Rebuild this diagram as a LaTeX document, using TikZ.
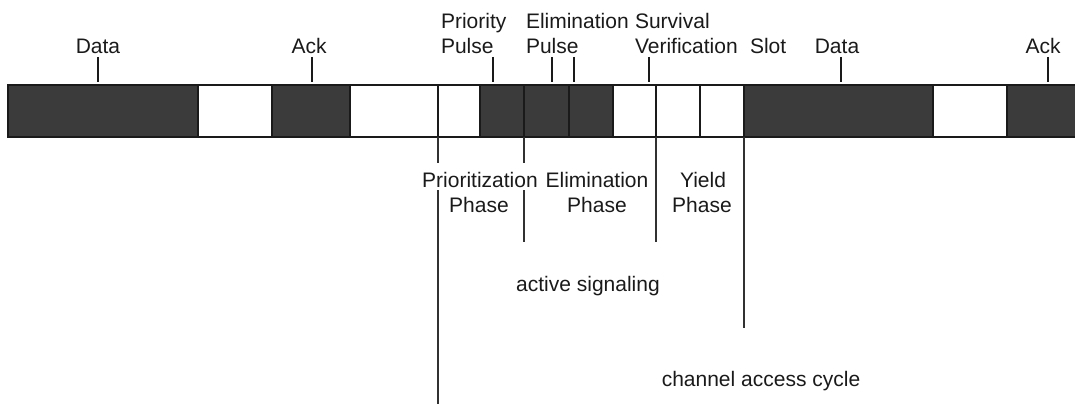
\documentclass[tikz,border=0pt]{standalone}
\usepackage{fontspec}
\setmainfont{Liberation Sans}
\definecolor{dk}{HTML}{3B3B3B}
\definecolor{ink}{HTML}{1A1A1A}
\begin{document}
\begin{tikzpicture}[x=1pt,y=-1pt,
  cell/.style={draw=ink, line width=2pt, minimum height=52pt, inner sep=0pt, outer sep=0pt},
  darkcell/.style={cell, fill=dk},
  lightcell/.style={cell, fill=white},
  lbl/.style={inner sep=0pt, outer sep=0pt, text=ink, font=\fontsize{21}{24}\selectfont},
  tick/.style={draw=ink, line width=2pt, shorten >=3pt},
  guide/.style={draw=ink!90, line width=1.9pt}]
\useasboundingbox (0,0) rectangle (1075,404);
% cells
\node[darkcell,  minimum width=190pt] (c1)  at (103,111) {};
\node[lightcell, minimum width=74pt]  (c2)  at (235,111) {};
\node[darkcell,  minimum width=78pt]  (c3)  at (311,111) {};
\node[lightcell, minimum width=88pt]  (c4)  at (394,111) {};
\node[lightcell, minimum width=42pt]  (c5)  at (459,111) {};
\node[darkcell,  minimum width=44pt]  (c6)  at (502,111) {};
\node[darkcell,  minimum width=45pt]  (c7)  at (546.5,111) {};
\node[darkcell,  minimum width=44pt]  (c8)  at (591,111) {};
\node[lightcell, minimum width=43pt]  (c9)  at (634.5,111) {};
\node[lightcell, minimum width=44pt]  (c10) at (678,111) {};
\node[lightcell, minimum width=44pt]  (c11) at (722,111) {};
\node[darkcell,  minimum width=189pt] (c12) at (838.5,111) {};
\node[lightcell, minimum width=74pt]  (c13) at (970,111) {};
\node[darkcell,  minimum width=70pt]  (c14) at (1042,111) {};
% top labels
\node[lbl, anchor=base] (dataA) at (98,53) {Data};
\node[lbl, anchor=base] (ackA) at (309,53) {Ack};
\node[lbl, anchor=base west] (prio1) at (441,29) {Priority};
\node[lbl, anchor=base west] (prio2) at (441,53) {Pulse};
\node[lbl, anchor=base west] (elim1) at (526,29) {Elimination};
\node[lbl, anchor=base west] (elim2) at (526,53) {Pulse};
\node[lbl, anchor=base west] (surv1) at (635,29) {Survival};
\node[lbl, anchor=base west] (surv2) at (635,53) {Verification};
\node[lbl, anchor=base west] (slot) at (750,53) {Slot};
\node[lbl, anchor=base] (dataB) at (837,53) {Data};
\node[lbl, anchor=base] (ackB) at (1043,53) {Ack};
% bottom labels
\node[lbl, anchor=base] (pph1) at (480,187) {Prioritization};
\node[lbl, anchor=base] (pph2) at (479,212) {Phase};
\node[lbl, anchor=base] (eph1) at (597,187) {Elimination};
\node[lbl, anchor=base] (eph2) at (597,212) {Phase};
\node[lbl, anchor=base] (yph1) at (703,187) {Yield};
\node[lbl, anchor=base] (yph2) at (702,212) {Phase};
\node[lbl, anchor=base] (act) at (588,291) {active signaling};
\node[lbl, anchor=base] (cac) at (761,386) {channel access cycle};
% tick coordinates
\coordinate (t1) at (98,57);
\coordinate (t2) at (312,57);
\coordinate (t3) at (493,57);
\coordinate (t4) at (552,57);
\coordinate (t5) at (574,57);
\coordinate (t6) at (649,57);
\coordinate (t7) at (841,57);
\coordinate (t8) at (1048,57);
\draw[tick] (t1) -- (t1 |- c1.north);
\draw[tick] (t2) -- (t2 |- c3.north);
\draw[tick] (t3) -- (t3 |- c6.north);
\draw[tick] (t4) -- (t4 |- c7.north);
\draw[tick] (t5) -- (t5 |- c8.north);
\draw[tick] (t6) -- (t6 |- c10.north);
\draw[tick] (t7) -- (t7 |- c12.north);
\draw[tick] (t8) -- (t8 |- c14.north);
% lower guide lines
\coordinate (g1a) at (438,163);
\coordinate (g1b) at (438,190);
\coordinate (g1e) at (438,404);
\coordinate (g2a) at (524,163);
\coordinate (g2b) at (524,190);
\coordinate (g2e) at (524,242);
\coordinate (g3e) at (656,242);
\coordinate (g4e) at (744,328);
\draw[guide] (c5.south west) -- (g1a);
\draw[guide] (g1b) -- (g1e);
\draw[guide] (c7.south west) -- (g2a);
\draw[guide] (g2b) -- (g2e);
\draw[guide] (c10.south west) -- (g3e);
\draw[guide] (c12.south west) -- (g4e);
\end{tikzpicture}
\end{document}
